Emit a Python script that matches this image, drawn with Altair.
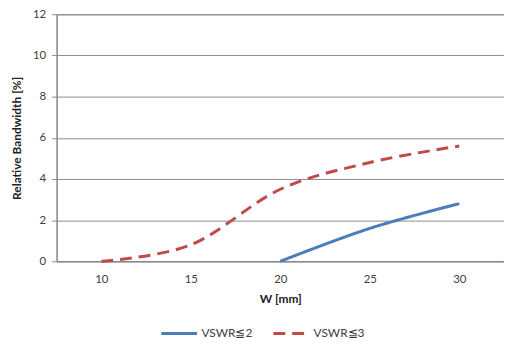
import altair as alt
import pandas as pd

w_mm = [10, 15, 20, 25, 30]
vswr3 = [0.0, 0.8, 3.5, 4.8, 5.6]
vswr2_w = [20, 25, 30]
vswr2 = [0.0, 1.6, 2.8]

rows = []
for x, y in zip(vswr2_w, vswr2):
    rows.append({"W": x, "BW": y, "series": "VSWR≦2"})
for x, y in zip(w_mm, vswr3):
    rows.append({"W": x, "BW": y, "series": "VSWR≦3"})
df = pd.DataFrame(rows)

FONT = "Lato"
series = ["VSWR≦2", "VSWR≦3"]

leg = dict(orient="none", legendX=104, legendY=302,
           direction="horizontal", symbolType="stroke",
           symbolSize=1296, symbolStrokeWidth=3,
           columnPadding=14, labelOffset=3)

chart = alt.Chart(df).mark_line(interpolate="cardinal", strokeWidth=3).encode(
    x=alt.X("W:Q", title="W [mm]",
            scale=alt.Scale(domain=[7.5, 32.5], nice=False, zero=False),
            axis=alt.Axis(values=w_mm, grid=False, ticks=False, labelPadding=12,
                          titlePadding=9, domainColor="#868686")),
    y=alt.Y("BW:Q", title="Relative Bandwidth [%]",
            scale=alt.Scale(domain=[0, 12], nice=False),
            axis=alt.Axis(values=[0, 2, 4, 6, 8, 10, 12], tickSize=5, labelPadding=6,
                          titlePadding=9, gridColor="#8c8c8c", tickColor="#8c8c8c",
                          domainColor="#868686")),
    color=alt.Color("series:N", title=None,
                    scale=alt.Scale(domain=series, range=["#4a7ebb", "#be4b48"]),
                    legend=alt.Legend(**leg)),
    strokeDash=alt.StrokeDash("series:N", title=None,
                              scale=alt.Scale(domain=series, range=[[1, 0], [12, 7]]),
                              legend=alt.Legend(**leg)),
).properties(
    width=451, height=249,
    autosize=alt.AutoSizeParams(type="none"),
    padding={"left": 49, "top": 5, "right": 0, "bottom": 79},
).configure_view(
    stroke="#868686", strokeWidth=1
).configure_axis(
    labelFont=FONT, titleFont=FONT, labelFontSize=11.5, titleFontSize=12,
    labelColor="#404040", titleColor="#222222", titleFontWeight="bold"
).configure_legend(
    labelFont=FONT, labelFontSize=12, labelColor="#404040"
)

chart.save("out.html", embed_options={"renderer": "svg", "actions": False})
